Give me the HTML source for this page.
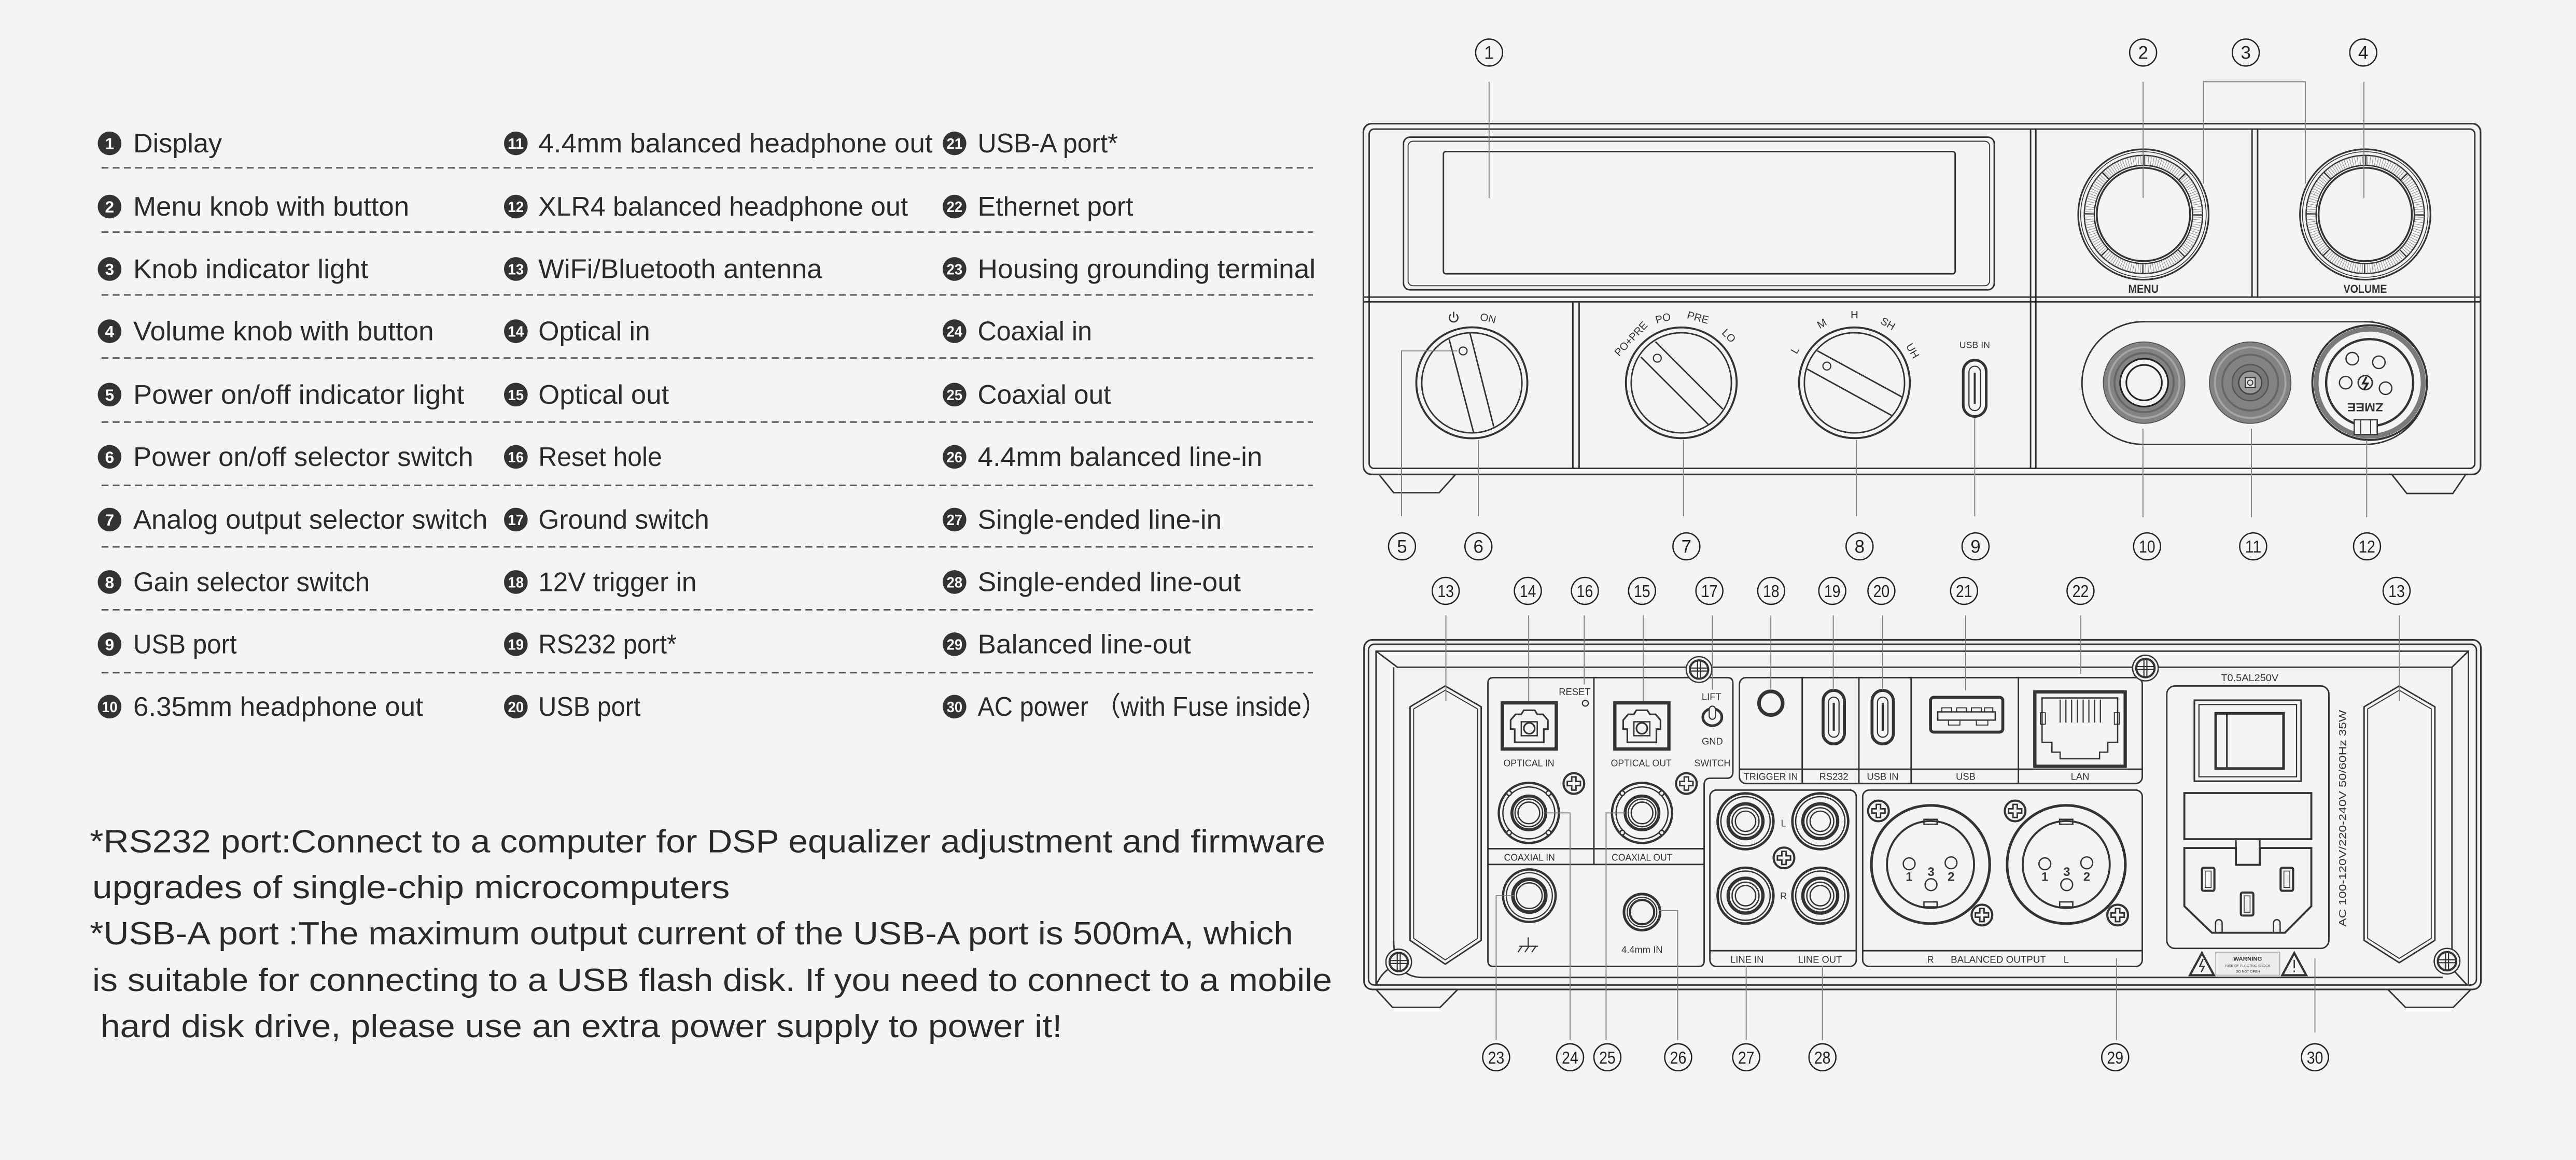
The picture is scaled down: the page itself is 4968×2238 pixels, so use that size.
<!DOCTYPE html>
<html><head><meta charset="utf-8"><style>
html,body{margin:0;padding:0;background:#f4f4f4;}
svg{display:block;}
</style></head><body>
<svg xmlns="http://www.w3.org/2000/svg" width="4968" height="2238" viewBox="0 0 1568 706.35" font-family="'Liberation Sans', 'Noto Sans CJK SC', sans-serif">
<defs>
<g id="kn" fill="none" stroke="#333">
<circle r="39.7" stroke-width="1"/><circle r="38.2" stroke-width=".5"/><circle r="36" stroke-width=".8"/>
<circle r="32.95" stroke="#8a8a8a" stroke-width="6" stroke-dasharray="0.32 1.2"/>
<circle r="32.95" stroke="#333" stroke-width="6.1" stroke-dasharray="0.7 25.18"/>
<circle r="29.9" stroke-width=".8"/><circle r="28.4" stroke-width="1.1"/>
</g>
<g id="bs"><circle r="7.8" fill="#f4f4f4" stroke="#333" stroke-width=".8"/><circle r="5.6" fill="none" stroke="#333" stroke-width="1.3"/><path d="M-0.9,-5.3V5.3M0.9,-5.3V5.3M-5.3,-0.9H5.3M-5.3,0.9H5.3" stroke="#333" stroke-width=".7" fill="none"/></g>
<g id="ss"><circle r="6.3" fill="#f4f4f4" stroke="#333" stroke-width="1.3"/><path d="M-1.3,-4H1.3V-1.3H4V1.3H1.3V4H-1.3V1.3H-4V-1.3H-1.3Z" fill="none" stroke="#333" stroke-width=".9"/></g>
<g id="tos" fill="none" stroke="#333"><rect x="-16.45" y="-14" width="32.9" height="28.1" stroke-width="2"/><path d="M-8.85,10V2H-11.35V-3.5L-8.35,-7H-4.85L-3.35,-9.5H3.35L4.85,-7H8.35L11.35,-3.5V2H8.85V10Z" stroke-width="1"/><rect x="-4.85" y="-2.5" width="9.7" height="8.5" stroke-width=".8"/><circle cy="1.5" r="3.3" stroke-width="1"/></g>
<g id="cx" fill="none" stroke="#333"><circle r="18.3" stroke-width="1.4"/><circle r="15.8" stroke-width=".8"/><circle r="10.3" stroke-width="1.8"/><circle r="8.4" stroke-width=".8"/><circle r="6.6" stroke-width=".8"/>
<circle cx="12" cy="12" r="1.4" fill="#f4f4f4" stroke-width=".8"/><circle cx="-12" cy="12" r="1.4" fill="#f4f4f4" stroke-width=".8"/><circle cx="12" cy="-12" r="1.4" fill="#f4f4f4" stroke-width=".8"/><circle cx="-12" cy="-12" r="1.4" fill="#f4f4f4" stroke-width=".8"/></g>
<g id="rca" fill="none" stroke="#333"><circle r="17" stroke-width="1.5"/><circle r="15" stroke-width=".8"/><circle r="10.6" stroke-width="2"/><circle r="8.2" stroke-width=".8"/><circle r="6.2" stroke-width=".8"/></g>
<g id="xlr" fill="none" stroke="#333"><circle r="36" stroke-width="1.6"/><circle r="26.5" stroke-width="1.2"/>
<rect x="-4" y="-27.5" width="8" height="3" stroke-width=".8"/><rect x="-4" y="22.8" width="8" height="3" stroke-width=".8"/>
<circle cx="-13" cy="-0.4" r="3.6" stroke-width=".8"/><circle cx="12.5" cy="-1" r="3.6" stroke-width=".8"/><circle cx="0.3" cy="12.3" r="3.6" stroke-width=".8"/>
<text x="-13" y="10" font-size="7.5" font-weight="bold" fill="#333" stroke="none" text-anchor="middle">1</text>
<text x="0.3" y="7" font-size="7.5" font-weight="bold" fill="#333" stroke="none" text-anchor="middle">3</text>
<text x="12.5" y="10" font-size="7.5" font-weight="bold" fill="#333" stroke="none" text-anchor="middle">2</text></g>
<g id="lc"><circle r="8.2" fill="none" stroke="#222" stroke-width=".8"/></g>
</defs>
<rect width="1568" height="706.35" fill="#f4f4f4"/>

<!-- ============ TABLE ============ -->
<g stroke="#555" stroke-width=".9" stroke-dasharray="4.2 2.6" fill="none">
<path d="M61.8,102.2H799.2M61.8,141.3H799.2M61.8,179.6H799.2M61.8,218H799.2M61.8,257H799.2M61.8,295.5H799.2M61.8,333H799.2M61.8,371.3H799.2M61.8,409.6H799.2"/>
</g>
<g fill="#333">
<circle cx="66.7" cy="87.3" r="7.2"/><circle cx="66.7" cy="125.8" r="7.2"/><circle cx="66.7" cy="163.8" r="7.2"/><circle cx="66.7" cy="201.7" r="7.2"/><circle cx="66.7" cy="240.3" r="7.2"/><circle cx="66.7" cy="278.2" r="7.2"/><circle cx="66.7" cy="316.4" r="7.2"/><circle cx="66.7" cy="354.4" r="7.2"/><circle cx="66.7" cy="392.3" r="7.2"/><circle cx="66.7" cy="430.3" r="7.2"/>
<circle cx="314" cy="87.3" r="7.2"/><circle cx="314" cy="125.8" r="7.2"/><circle cx="314" cy="163.8" r="7.2"/><circle cx="314" cy="201.7" r="7.2"/><circle cx="314" cy="240.3" r="7.2"/><circle cx="314" cy="278.2" r="7.2"/><circle cx="314" cy="316.4" r="7.2"/><circle cx="314" cy="354.4" r="7.2"/><circle cx="314" cy="392.3" r="7.2"/><circle cx="314" cy="430.3" r="7.2"/>
<circle cx="581" cy="87.3" r="7.2"/><circle cx="581" cy="125.8" r="7.2"/><circle cx="581" cy="163.8" r="7.2"/><circle cx="581" cy="201.7" r="7.2"/><circle cx="581" cy="240.3" r="7.2"/><circle cx="581" cy="278.2" r="7.2"/><circle cx="581" cy="316.4" r="7.2"/><circle cx="581" cy="354.4" r="7.2"/><circle cx="581" cy="392.3" r="7.2"/><circle cx="581" cy="430.3" r="7.2"/>
</g>
<g fill="#fff" font-size="10" text-anchor="middle" font-weight="bold">
<text x="66.7" y="90.9">1</text><text x="66.7" y="129.4">2</text><text x="66.7" y="167.4">3</text><text x="66.7" y="205.3">4</text><text x="66.7" y="243.9">5</text><text x="66.7" y="281.8">6</text><text x="66.7" y="320">7</text><text x="66.7" y="358">8</text><text x="66.7" y="395.9">9</text>
</g>
<g fill="#fff" font-size="9" text-anchor="middle" font-weight="bold" lengthAdjust="spacingAndGlyphs">
<text x="66.7" y="433.6" textLength="9.6" lengthAdjust="spacingAndGlyphs">10</text>
<text x="314" y="90.6" textLength="9.6" lengthAdjust="spacingAndGlyphs">11</text><text x="314" y="129.1" textLength="9.6" lengthAdjust="spacingAndGlyphs">12</text><text x="314" y="167.1" textLength="9.6" lengthAdjust="spacingAndGlyphs">13</text><text x="314" y="205" textLength="9.6" lengthAdjust="spacingAndGlyphs">14</text><text x="314" y="243.6" textLength="9.6" lengthAdjust="spacingAndGlyphs">15</text><text x="314" y="281.5" textLength="9.6" lengthAdjust="spacingAndGlyphs">16</text><text x="314" y="319.7" textLength="9.6" lengthAdjust="spacingAndGlyphs">17</text><text x="314" y="357.7" textLength="9.6" lengthAdjust="spacingAndGlyphs">18</text><text x="314" y="395.6" textLength="9.6" lengthAdjust="spacingAndGlyphs">19</text><text x="314" y="433.6" textLength="9.6" lengthAdjust="spacingAndGlyphs">20</text>
<text x="581" y="90.6" textLength="9.6" lengthAdjust="spacingAndGlyphs">21</text><text x="581" y="129.1" textLength="9.6" lengthAdjust="spacingAndGlyphs">22</text><text x="581" y="167.1" textLength="9.6" lengthAdjust="spacingAndGlyphs">23</text><text x="581" y="205" textLength="9.6" lengthAdjust="spacingAndGlyphs">24</text><text x="581" y="243.6" textLength="9.6" lengthAdjust="spacingAndGlyphs">25</text><text x="581" y="281.5" textLength="9.6" lengthAdjust="spacingAndGlyphs">26</text><text x="581" y="319.7" textLength="9.6" lengthAdjust="spacingAndGlyphs">27</text><text x="581" y="357.7" textLength="9.6" lengthAdjust="spacingAndGlyphs">28</text><text x="581" y="395.6" textLength="9.6" lengthAdjust="spacingAndGlyphs">29</text><text x="581" y="433.6" textLength="9.6" lengthAdjust="spacingAndGlyphs">30</text>
</g>
<g fill="#2a2a2a" font-size="16.5">
<text x="81.1" y="92.8" textLength="54" lengthAdjust="spacingAndGlyphs">Display</text>
<text x="81.1" y="131.3" textLength="168" lengthAdjust="spacingAndGlyphs">Menu knob with button</text>
<text x="81.1" y="169.3" textLength="143" lengthAdjust="spacingAndGlyphs">Knob indicator light</text>
<text x="81.1" y="207.2" textLength="183" lengthAdjust="spacingAndGlyphs">Volume knob with button</text>
<text x="81.1" y="245.8" textLength="201.5" lengthAdjust="spacingAndGlyphs">Power on/off indicator light</text>
<text x="81.1" y="283.7" textLength="207" lengthAdjust="spacingAndGlyphs">Power on/off selector switch</text>
<text x="81.1" y="321.9" textLength="215.7" lengthAdjust="spacingAndGlyphs">Analog output selector switch</text>
<text x="81.1" y="359.9" textLength="144" lengthAdjust="spacingAndGlyphs">Gain selector switch</text>
<text x="81.1" y="397.8" textLength="63" lengthAdjust="spacingAndGlyphs">USB port</text>
<text x="81.1" y="435.8" textLength="176.4" lengthAdjust="spacingAndGlyphs">6.35mm headphone out</text>
<text x="327.7" y="92.8" textLength="240" lengthAdjust="spacingAndGlyphs">4.4mm balanced headphone out</text>
<text x="327.7" y="131.3" textLength="225" lengthAdjust="spacingAndGlyphs">XLR4 balanced headphone out</text>
<text x="327.7" y="169.3" textLength="172.7" lengthAdjust="spacingAndGlyphs">WiFi/Bluetooth antenna</text>
<text x="327.7" y="207.2" textLength="68" lengthAdjust="spacingAndGlyphs">Optical in</text>
<text x="327.7" y="245.8" textLength="79.5" lengthAdjust="spacingAndGlyphs">Optical out</text>
<text x="327.7" y="283.7" textLength="75.3" lengthAdjust="spacingAndGlyphs">Reset hole</text>
<text x="327.7" y="321.9" textLength="104" lengthAdjust="spacingAndGlyphs">Ground switch</text>
<text x="327.7" y="359.9" textLength="96.3" lengthAdjust="spacingAndGlyphs">12V trigger in</text>
<text x="327.7" y="397.8" textLength="84.2" lengthAdjust="spacingAndGlyphs">RS232 port*</text>
<text x="327.7" y="435.8" textLength="62.2" lengthAdjust="spacingAndGlyphs">USB port</text>
<text x="595.1" y="92.8" textLength="85.3" lengthAdjust="spacingAndGlyphs">USB-A port*</text>
<text x="595.1" y="131.3" textLength="94.7" lengthAdjust="spacingAndGlyphs">Ethernet port</text>
<text x="595.1" y="169.3" textLength="205.7" lengthAdjust="spacingAndGlyphs">Housing grounding terminal</text>
<text x="595.1" y="207.2" textLength="69.6" lengthAdjust="spacingAndGlyphs">Coaxial in</text>
<text x="595.1" y="245.8" textLength="81.1" lengthAdjust="spacingAndGlyphs">Coaxial out</text>
<text x="595.1" y="283.7" textLength="173.3" lengthAdjust="spacingAndGlyphs">4.4mm balanced line-in</text>
<text x="595.1" y="321.9" textLength="148.6" lengthAdjust="spacingAndGlyphs">Single-ended line-in</text>
<text x="595.1" y="359.9" textLength="160.2" lengthAdjust="spacingAndGlyphs">Single-ended line-out</text>
<text x="595.1" y="397.8" textLength="129.8" lengthAdjust="spacingAndGlyphs">Balanced line-out</text>
<text x="595.1" y="435.8" textLength="212.5" lengthAdjust="spacingAndGlyphs">AC power （with Fuse inside）</text>
</g>
<g fill="#2a2a2a" font-size="19.5">
<text x="54.7" y="519" textLength="752" lengthAdjust="spacingAndGlyphs">*RS232 port:Connect to a computer for DSP equalizer adjustment and firmware</text>
<text x="56.2" y="547" textLength="388" lengthAdjust="spacingAndGlyphs">upgrades of single-chip microcomputers</text>
<text x="54.7" y="575" textLength="732.4" lengthAdjust="spacingAndGlyphs">*USB-A port :The maximum output current of the USB-A port is 500mA, which</text>
<text x="56.2" y="603.4" textLength="754.6" lengthAdjust="spacingAndGlyphs">is suitable for connecting to a USB flash disk. If you need to connect to a mobile</text>
<text x="61.1" y="631.5" textLength="585.4" lengthAdjust="spacingAndGlyphs">hard disk drive, please use an extra power supply to power it!</text>
</g>

<!-- ============ FRONT PANEL ============ -->
<g fill="none" stroke="#333" stroke-width=".9">
<rect x="829.9" y="75.3" width="680" height="213.6" rx="5" stroke-width="1"/>
<rect x="833.4" y="78.6" width="673" height="206.6" rx="3"/>
<path d="M829.9,180.9H1509.9M829.9,183.8H1509.9"/>
<path d="M1236,78.6V285.2M1239.2,78.6V285.2"/>
<path d="M1370.8,78.6V180.9M1374.2,78.6V180.9"/>
<path d="M957.4,183.8V285.2M961.2,183.8V285.2"/>
<rect x="854.3" y="83.5" width="359.6" height="93" rx="4"/>
<rect x="857.1" y="86" width="354" height="88" rx="3" stroke-width=".6"/>
<rect x="878.6" y="92.3" width="311.5" height="74.4" rx="1.5"/>
<path d="M839.4,288.9L848.3,300H876L886,288.9M1455.9,288.9L1465,300.5H1493L1500.9,288.9"/>
<!-- power knob -->
<circle cx="895.9" cy="233.1" r="33.8" stroke-width="1.2"/><circle cx="895.9" cy="233.1" r="30.5"/>
<path d="M882.1,206.6L897,263.5M894.8,203L909.2,259.7"/>
<circle cx="890.6" cy="213.7" r="2.4" stroke-width=".7"/>
<path d="M883.2,191.4A2.6,2.6 0 1 0 886.4,191.4M884.8,189.8V193.4" stroke-width=".8"/>
<!-- output knob -->
<circle cx="1023.4" cy="233.1" r="33.7" stroke-width="1.2"/><circle cx="1023.4" cy="233.1" r="30.5"/>
<path d="M998.8,217.4L1039.8,258.4M1007.7,208.1L1048.6,249.1"/>
<circle cx="1008.8" cy="218.1" r="2.4" stroke-width=".7"/>
<!-- gain knob -->
<circle cx="1128.8" cy="233.1" r="33.7" stroke-width="1.2"/><circle cx="1128.8" cy="233.1" r="30.5"/>
<path d="M1100,224.7L1151.6,253.1M1106.2,213.6L1158.2,242"/>
<circle cx="1112" cy="222.9" r="2.4" stroke-width=".7"/>
<!-- usb-c front -->
<rect x="1195" y="219.3" width="14" height="34.3" rx="7" stroke-width="1.6"/>
<rect x="1198.5" y="223" width="7" height="27" rx="3.5" stroke-width=".7"/>
<path d="M1202,227V246" stroke-width="1.2"/>
<!-- right panel -->
<rect x="1267.3" y="195.9" width="210" height="74.7" rx="37.35"/>
</g>
<use href="#kn" x="1304.7" y="130.6"/>
<use href="#kn" x="1439.7" y="130.6"/>
<g fill="#333" font-size="6.5" text-anchor="middle">
<text x="1304.7" y="178.3" font-size="7" font-weight="bold" textLength="18.5" lengthAdjust="spacingAndGlyphs">MENU</text>
<text x="1439.7" y="178.3" font-size="7" font-weight="bold" textLength="26.5" lengthAdjust="spacingAndGlyphs">VOLUME</text>
<text x="905.8" y="196" transform="rotate(12 905.8 193.7)">ON</text>
<text x="992.8" y="208.5" transform="rotate(-47 992.8 206.3)" textLength="26" lengthAdjust="spacingAndGlyphs">PO+PRE</text>
<text x="1012.3" y="196" transform="rotate(-15 1012.3 193.7)">PO</text>
<text x="1033.6" y="195.6" transform="rotate(15 1033.6 193.3)">PRE</text>
<text x="1052.4" y="206.7" transform="rotate(45 1052.4 204.4)">LO</text>
<text x="1092.5" y="215.5" transform="rotate(-60 1092.5 213.2)">L</text>
<text x="1108.9" y="199.3" transform="rotate(-30 1108.9 197)">M</text>
<text x="1128.8" y="193.8">H</text>
<text x="1149.2" y="199.3" transform="rotate(30 1149.2 197)">SH</text>
<text x="1164.3" y="215.9" transform="rotate(60 1164.3 213.6)">UH</text>
<text x="1202" y="212" font-size="5.6">USB IN</text>
</g>
<!-- 6.35 jack -->
<circle cx="1305.1" cy="233" r="24.8" fill="#838383" stroke="#555" stroke-width=".6"/>
<circle cx="1305.1" cy="233" r="21.5" fill="none" stroke="#a5a5a5" stroke-width="1.2"/>
<circle cx="1305.1" cy="233" r="18" fill="none" stroke="#666" stroke-width="1.2"/>
<circle cx="1305.1" cy="233" r="14.6" fill="#f4f4f4" stroke="#222" stroke-width="1"/>
<circle cx="1305.1" cy="233" r="10.8" fill="none" stroke="#222" stroke-width="1"/>
<!-- 4.4 jack -->
<circle cx="1369.7" cy="233" r="24.8" fill="#838383" stroke="#555" stroke-width=".6"/>
<circle cx="1369.7" cy="233" r="21.5" fill="none" stroke="#a5a5a5" stroke-width="1.2"/>
<circle cx="1369.7" cy="233" r="17" fill="none" stroke="#666" stroke-width="1.2"/>
<circle cx="1369.7" cy="233" r="11" fill="#777" stroke="#555" stroke-width=".8"/>
<circle cx="1369.7" cy="233" r="7" fill="#999" stroke="#444" stroke-width=".8"/>
<rect x="1366.7" y="230" width="6" height="6" fill="#e6e6e6" stroke="#333" stroke-width=".7"/>
<circle cx="1369.7" cy="233" r="1.6" fill="none" stroke="#333" stroke-width=".6"/>
<!-- XLR4 -->
<g fill="none" stroke="#333">
<circle cx="1442.4" cy="233" r="34.9" stroke-width="1.2"/>
<circle cx="1442.4" cy="233" r="32.6" stroke="#7a7a7a" stroke-width="3"/>
<circle cx="1442.4" cy="233" r="26.5" stroke-width="1.4"/>
<circle cx="1431.8" cy="218.4" r="3.8" stroke-width=".8"/><circle cx="1448" cy="220.6" r="3.8" stroke-width=".8"/>
<circle cx="1427.8" cy="233" r="3.8" stroke-width=".8"/><circle cx="1452.1" cy="236.4" r="3.8" stroke-width=".8"/>
<circle cx="1439.7" cy="233" r="4.3" stroke-width=".9"/>
<rect x="1433" y="255.6" width="14" height="9" stroke-width=".8" fill="#f4f4f4"/>
<path d="M1437,255.6V264.6M1443,255.6V264.6" stroke-width=".6"/>
</g>
<path d="M1440.5,229.5L1438.3,233.5H1441.2L1439,237" fill="none" stroke="#222" stroke-width="1.1"/>
<text x="1439.7" y="250.6" transform="rotate(180 1439.7 248.1)" text-anchor="middle" font-size="7" font-weight="bold" fill="#333" textLength="22" lengthAdjust="spacingAndGlyphs">ZMEE</text>

<!-- front leader lines -->
<g fill="none" stroke="#808080" stroke-width=".6">
<path d="M906.4,49.8V120.7M1304.5,49.8V120.5M1341.2,111.8V49.8H1403.2V111.8M1438.9,49.8V120.5"/>
<path d="M887,213.7H853.1V314.4M899.9,267.9V314.4M1024.7,267.9V314.4M1129.9,267.9V314.4M1202,254.7V314.4M1304.4,261V315M1370.4,261V315M1440.6,268V315"/>
</g>

<!-- ============ BACK PANEL ============ -->
<g fill="none" stroke="#333" stroke-width=".9">
<rect x="830.3" y="389.6" width="679.8" height="212.9" rx="5" stroke-width="1"/>
<rect x="833" y="392.3" width="674.4" height="207.5" rx="3.5"/>
<path d="M837.6,599.8V396.5H1502.5V599.8"/>
<path d="M837.6,396.5L850.6,406.3H1492.5L1502.5,396.5M848.3,406.3V572Q848.3,595.2 866,595.2H1487M1492.5,406.3V589.8L1501.7,599.8"/>
<path d="M837.6,599.8Q842,590 850,588"/>
<!-- hexagon vents -->
<path d="M879.7,417.7L901.6,430.4V572.6L879.7,587.1L858.3,572.6V430.4Z"/>
<path d="M879.7,420.3L899.4,431.7V571.4L879.7,584.5L860.5,571.4V431.7Z" stroke-width=".6"/>
<path d="M1460.4,417.7L1482.1,430.4V572.6L1460.4,586.2L1439,572.6V430.4Z"/>
<path d="M1460.4,420.3L1479.9,431.7V571.4L1460.4,583.6L1441.2,571.4V431.7Z" stroke-width=".6"/>
<!-- boxes -->
<path d="M905.7,416Q905.7,412.6 909,412.6H1051.5Q1054.8,412.6 1054.8,416V470Q1054.8,473.9 1051,473.9H1041Q1037.3,473.9 1037.3,478V585Q1037.3,588.5 1034,588.5H909Q905.7,588.5 905.7,585Z"/>
<path d="M970.2,412.6V526.4M905.7,516.8H1037.3M905.7,526.4H1037.3"/>
<rect x="1058.8" y="412.6" width="245.2" height="64.5" rx="4"/>
<path d="M1058.8,468.4H1304M1097,412.6V477.1M1131.5,412.6V477.1M1163.3,412.6V477.1M1228.6,412.6V477.1"/>
<rect x="1040.8" y="481.1" width="89.1" height="107.4" rx="4"/>
<rect x="1133.8" y="481.1" width="170.2" height="107.4" rx="4"/>
<path d="M1040.8,578.9H1129.9M1133.8,578.9H1304"/>
<rect x="1318.9" y="417.7" width="98.7" height="159.8" rx="5"/>
<!-- feet -->
<path d="M837.6,602.5L847.6,613.4H876.6L887.3,602.5M1453.5,602.5L1464.2,613.4H1493.3L1504,602.5"/>
<!-- trigger -->
<circle cx="1077.9" cy="428.2" r="7.2" stroke-width="2.2"/>
<!-- usb-c x2 -->
<rect x="1109.7" y="420.4" width="13" height="32.6" rx="6.5" stroke-width="1.8"/>
<rect x="1113" y="424.5" width="6.4" height="24.4" rx="3.2" stroke-width=".7"/>
<path d="M1116.2,428V445" stroke-width="1.3"/>
<rect x="1139.5" y="420.4" width="13" height="32.6" rx="6.5" stroke-width="1.8"/>
<rect x="1142.8" y="424.5" width="6.4" height="24.4" rx="3.2" stroke-width=".7"/>
<path d="M1146,428V445" stroke-width="1.3"/>
<!-- usb-a -->
<rect x="1175.1" y="424.6" width="44" height="21.2" rx="2" stroke-width="1.8"/>
<rect x="1179.5" y="433.5" width="35" height="5" stroke-width=".8"/>
<path d="M1182,433.5V431H1188V433.5M1191,433.5V431H1197V433.5M1200,433.5V431H1206V433.5M1208,433.5V431H1213V433.5M1186,438.5V441.5H1193V438.5M1203,438.5V441.5H1210V438.5" stroke-width=".6"/>
<!-- LAN -->
<rect x="1238.6" y="421.3" width="55" height="45.3" stroke-width="2"/>
<path d="M1243,425H1289V452H1283V458H1278V462H1254V458H1249V452H1243Z" stroke-width=".8"/>
<path d="M1254,426V440M1257.5,426V440M1261,426V440M1264.5,426V440M1268,426V440M1271.5,426V440M1275,426V440M1278.5,426V440" stroke-width=".7"/>
<rect x="1242" y="434" width="3" height="7" stroke-width=".6"/><rect x="1287" y="434" width="3" height="7" stroke-width=".6"/>
<!-- ground post and 4.4 in -->
<circle cx="930.9" cy="545.4" r="16" stroke-width="1.4"/><circle cx="930.9" cy="545.4" r="14" stroke-width=".7"/>
<circle cx="930.9" cy="545.4" r="10" stroke-width="2.2"/><circle cx="930.9" cy="545.4" r="7.8" stroke-width=".8"/>
<circle cx="999.5" cy="555.4" r="11" stroke-width="1.6"/><circle cx="999.5" cy="555.4" r="9" stroke-width=".7"/><circle cx="999.5" cy="555.4" r="7.4" stroke-width="1.3"/>
<path d="M930.2,570.8V576.2M924.8,576.2H936.2M926.5,576.2L924,579.8M930.7,576.2L928.2,579.8M934.9,576.2L932.4,579.8" stroke-width=".7"/>
<!-- reset hole -->
<circle cx="965" cy="428.2" r="1.8" stroke-width=".7"/>
<!-- lift/gnd toggle -->
<ellipse cx="1042.3" cy="436.7" rx="5.8" ry="5.2" stroke-width="1.6"/>
<rect x="1040.4" y="430" width="3.8" height="8" rx="1.9" stroke-width=".7" fill="#f4f4f4"/>
<!-- AC -->
<rect x="1335.7" y="426.4" width="65" height="49.3" stroke-width="1"/>
<rect x="1338.5" y="429" width="59.4" height="44" stroke-width=".7"/>
<rect x="1348.7" y="434.4" width="41.3" height="33.6" stroke-width="1.6"/>
<path d="M1355.5,434.4V468" stroke-width="1"/>
<rect x="1329.6" y="482.9" width="77.3" height="28.1" stroke-width="1.2"/>
<path d="M1329.6,516.4H1361V526.6H1375.5V516.4H1406.9V551.8L1390.8,568H1346.4L1329.6,551.8Z" stroke-width="1.2"/>
<path d="M1361,511V516.4M1375.5,511V516.4" stroke-width="1"/>
<rect x="1340.3" y="528.4" width="7.6" height="14" rx="1" stroke-width="1.3"/><rect x="1342.3" y="530.4" width="3.6" height="10" stroke-width=".5"/>
<rect x="1388.2" y="528.4" width="7.6" height="14" rx="1" stroke-width="1.3"/><rect x="1390.2" y="530.4" width="3.6" height="10" stroke-width=".5"/>
<rect x="1364" y="543.5" width="7.6" height="14" rx="1" stroke-width="1.3"/><rect x="1366" y="545.5" width="3.6" height="10" stroke-width=".5"/>
<path d="M1348.6,568V562A2,2 0 0 1 1352.6,562V568M1383.9,568V562A2,2 0 0 1 1387.9,562V568" stroke-width=".8"/>
<path d="M1340.3,580.3L1347.6,593.8H1333Z" stroke-width="1.3"/>
<path d="M1396.5,580.3L1403.8,593.8H1389.2Z" stroke-width="1.3"/>
<path d="M1341,584L1339,588.5H1341.6L1339.8,592M1396.5,584.5V589.5M1396.5,591V592" stroke-width=".8"/>
<rect x="1348.7" y="579.8" width="39" height="14" stroke="#aaa" stroke-width=".5" fill="#ececec"/>
</g>
<use href="#tos" x="930.85" y="442"/>
<use href="#tos" x="999.4" y="442"/>
<use href="#cx" x="930.6" y="495"/>
<use href="#cx" x="999.5" y="495"/>
<use href="#rca" x="1062.5" y="500.1"/><use href="#rca" x="1108" y="500.1"/>
<use href="#rca" x="1062.5" y="545.4"/><use href="#rca" x="1108" y="545.4"/>
<use href="#xlr" x="1175.1" y="526.4"/><use href="#xlr" x="1257.7" y="526.4"/>
<use href="#bs" x="851.4" y="585.8"/><use href="#bs" x="1034.2" y="407.7"/><use href="#bs" x="1305.9" y="406.8"/><use href="#bs" x="1489.5" y="585.3"/>
<use href="#ss" x="958" y="477.1"/><use href="#ss" x="1026.5" y="477.1"/><use href="#ss" x="1085.9" y="522.4"/>
<use href="#ss" x="1143.4" y="493.8"/><use href="#ss" x="1206.4" y="557.2"/><use href="#ss" x="1226.6" y="493.8"/><use href="#ss" x="1289" y="557.2"/>
<g fill="#333" font-size="5.8" text-anchor="middle">
<text x="958.5" y="423.2">RESET</text>
<text x="930.6" y="466.6" textLength="31" lengthAdjust="spacingAndGlyphs">OPTICAL IN</text>
<text x="999" y="466.6" textLength="37" lengthAdjust="spacingAndGlyphs">OPTICAL OUT</text>
<text x="931" y="524.1" textLength="31" lengthAdjust="spacingAndGlyphs">COAXIAL IN</text>
<text x="999.5" y="524.1" textLength="37" lengthAdjust="spacingAndGlyphs">COAXIAL OUT</text>
<text x="999.5" y="580.2">4.4mm IN</text>
<text x="1041.8" y="426.2">LIFT</text>
<text x="1042.3" y="453.4">GND</text>
<text x="1042.3" y="466.6" textLength="22" lengthAdjust="spacingAndGlyphs">SWITCH</text>
<text x="1077.9" y="474.8" textLength="33" lengthAdjust="spacingAndGlyphs">TRIGGER IN</text>
<text x="1116.2" y="474.8">RS232</text>
<text x="1146" y="474.8">USB IN</text>
<text x="1196.5" y="474.8">USB</text>
<text x="1266.1" y="474.8">LAN</text>
<text x="1085.6" y="503.2">L</text>
<text x="1085.6" y="547.6">R</text>
<text x="1063.4" y="586.2">LINE IN</text>
<text x="1107.8" y="586.2">LINE OUT</text>
<text x="1175.1" y="586.2">R</text>
<text x="1216.4" y="586.2" textLength="58" lengthAdjust="spacingAndGlyphs">BALANCED OUTPUT</text>
<text x="1257.7" y="586.2">L</text>
<text x="1369.4" y="414.8" textLength="35" lengthAdjust="spacingAndGlyphs">T0.5AL250V</text>
<text x="1426" y="498.3" transform="rotate(-90 1426 498.3)" dy="2" font-size="6.2" textLength="132" lengthAdjust="spacingAndGlyphs">AC 100-120V/220-240V   50/60Hz   35W</text>
<text x="1368.2" y="585" font-size="3.6" font-weight="bold">WARNING</text>
<text x="1368.2" y="588.8" font-size="2.1">RISK OF ELECTRIC SHOCK</text>
<text x="1368.2" y="592.2" font-size="2.1">DO NOT OPEN</text>
</g>
<!-- back leader lines -->
<g fill="none" stroke="#808080" stroke-width=".6">
<path d="M880.1,374.7V426.7M930.5,374.7V426.7M964.3,374.7V416.8M1000.2,374.7V426.7M1042.3,374.7V420M1077.9,374.7V420.4M1115.9,374.7V420.4M1146,374.7V420.4M1196.5,374.7V420.4M1266.6,374.7V410.4M1460.4,374.7V426.7"/>
<path d="M921.7,545.4H910.7V633.3M940.9,495H955.7V633.3M989.1,495H977.6V633.3M1009.7,554.5H1021.2V633.3M1062.9,588V633.3M1109.3,588V633.3M1288.3,583.5V633.3M1409.1,583.5V628.7"/>
</g>

<!-- circled labels -->
<use href="#lc" x="906.4" y="32"/><use href="#lc" x="1304.5" y="32"/><use href="#lc" x="1367" y="32"/><use href="#lc" x="1438.5" y="32"/>
<use href="#lc" x="853.4" y="332.7"/><use href="#lc" x="899.9" y="332.7"/><use href="#lc" x="1026.5" y="332.7"/><use href="#lc" x="1131.9" y="332.7"/><use href="#lc" x="1202.5" y="332.7"/><use href="#lc" x="1306.9" y="332.7"/><use href="#lc" x="1371.5" y="332.7"/><use href="#lc" x="1440.8" y="332.7"/>
<use href="#lc" x="880" y="359.8"/><use href="#lc" x="930" y="359.8"/><use href="#lc" x="964.7" y="359.8"/><use href="#lc" x="999.5" y="359.8"/><use href="#lc" x="1040.5" y="359.8"/><use href="#lc" x="1078.1" y="359.8"/><use href="#lc" x="1115.3" y="359.8"/><use href="#lc" x="1145.2" y="359.8"/><use href="#lc" x="1195.5" y="359.8"/><use href="#lc" x="1266.4" y="359.8"/><use href="#lc" x="1458.8" y="359.8"/>
<use href="#lc" x="910.7" y="643.8"/><use href="#lc" x="955.7" y="643.8"/><use href="#lc" x="978.4" y="643.8"/><use href="#lc" x="1021.5" y="643.8"/><use href="#lc" x="1062.9" y="643.8"/><use href="#lc" x="1109.3" y="643.8"/><use href="#lc" x="1287.5" y="643.8"/><use href="#lc" x="1409.1" y="643.8"/>
<g fill="#222" font-size="11" text-anchor="middle">
<text x="906.4" y="35.9">1</text><text x="1304.5" y="35.9">2</text><text x="1367" y="35.9">3</text><text x="1438.5" y="35.9">4</text>
<text x="853.4" y="336.6">5</text><text x="899.9" y="336.6">6</text><text x="1026.5" y="336.6">7</text><text x="1131.9" y="336.6">8</text><text x="1202.5" y="336.6">9</text>
</g>
<g fill="#222" font-size="10.5" text-anchor="middle">
<text x="1306.9" y="336.5" textLength="10" lengthAdjust="spacingAndGlyphs">10</text><text x="1371.5" y="336.5" textLength="10" lengthAdjust="spacingAndGlyphs">11</text><text x="1440.8" y="336.5" textLength="10" lengthAdjust="spacingAndGlyphs">12</text>
<text x="880" y="363.6" textLength="10" lengthAdjust="spacingAndGlyphs">13</text><text x="930" y="363.6" textLength="10" lengthAdjust="spacingAndGlyphs">14</text><text x="964.7" y="363.6" textLength="10" lengthAdjust="spacingAndGlyphs">16</text><text x="999.5" y="363.6" textLength="10" lengthAdjust="spacingAndGlyphs">15</text><text x="1040.5" y="363.6" textLength="10" lengthAdjust="spacingAndGlyphs">17</text><text x="1078.1" y="363.6" textLength="10" lengthAdjust="spacingAndGlyphs">18</text><text x="1115.3" y="363.6" textLength="10" lengthAdjust="spacingAndGlyphs">19</text><text x="1145.2" y="363.6" textLength="10" lengthAdjust="spacingAndGlyphs">20</text><text x="1195.5" y="363.6" textLength="10" lengthAdjust="spacingAndGlyphs">21</text><text x="1266.4" y="363.6" textLength="10" lengthAdjust="spacingAndGlyphs">22</text><text x="1458.8" y="363.6" textLength="10" lengthAdjust="spacingAndGlyphs">13</text>
<text x="910.7" y="647.6" textLength="10" lengthAdjust="spacingAndGlyphs">23</text><text x="955.7" y="647.6" textLength="10" lengthAdjust="spacingAndGlyphs">24</text><text x="978.4" y="647.6" textLength="10" lengthAdjust="spacingAndGlyphs">25</text><text x="1021.5" y="647.6" textLength="10" lengthAdjust="spacingAndGlyphs">26</text><text x="1062.9" y="647.6" textLength="10" lengthAdjust="spacingAndGlyphs">27</text><text x="1109.3" y="647.6" textLength="10" lengthAdjust="spacingAndGlyphs">28</text><text x="1287.5" y="647.6" textLength="10" lengthAdjust="spacingAndGlyphs">29</text><text x="1409.1" y="647.6" textLength="10" lengthAdjust="spacingAndGlyphs">30</text>
</g>
</svg>
</body></html>
